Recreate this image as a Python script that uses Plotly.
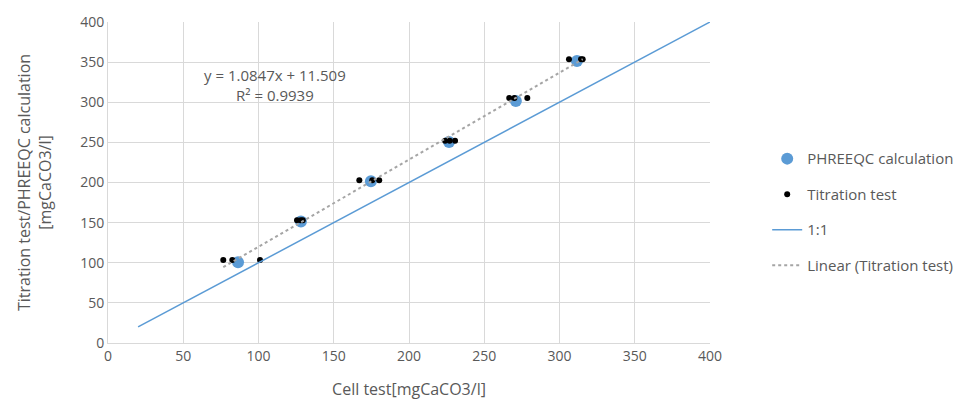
import plotly.graph_objects as go

# PHREEQC calculated alkalinity vs. cell test
phreeqc_x = [86.4, 128.2, 174.7, 226.6, 271.0, 311.6]
phreeqc_y = [100.5, 151.5, 201.5, 250.5, 301.5, 351.5]

# Titration test results vs. cell test
titration_x = [76.6, 82.6, 101.0, 125.6, 128.0, 129.4, 167.0, 175.6, 180.2,
               224.0, 227.0, 230.6, 266.6, 270.0, 278.6, 306.3, 314.3, 315.4]
titration_y = [103.5, 103.5, 103.5, 153.0, 153.0, 153.0, 202.7, 202.7, 202.7,
               252.0, 252.0, 252.0, 305.4, 305.4, 305.4, 353.5, 353.5, 353.5]

# 1:1 reference line
one_to_one = [20, 400]

# Linear trendline of the titration test
slope = 1.0847
intercept = 11.509
r_squared = 0.9939

x_ticks = [0, 50, 100, 150, 200, 250, 300, 350, 400]
y_ticks = [0, 50, 100, 150, 200, 250, 300, 350, 400]

FONT = "Open Sans, Liberation Sans, sans-serif"
GRID = "#d9d9d9"
TXT = "#595959"

trend_x = [min(titration_x), max(titration_x)]
trend_y = [slope * v + intercept for v in trend_x]

fig = go.Figure()
fig.add_trace(go.Scatter(
    x=phreeqc_x, y=phreeqc_y, mode="markers", name="PHREEQC calculation",
    marker=dict(color="#5B9BD5", size=12), legendgroup="a"))
fig.add_trace(go.Scatter(
    x=titration_x, y=titration_y, mode="markers", name="Titration test",
    marker=dict(color="black", size=6), legendgroup="b"))
fig.add_trace(go.Scatter(
    x=one_to_one, y=one_to_one, mode="lines", name="1:1",
    line=dict(color="#5B9BD5", width=1.5), legendgroup="c"))
fig.add_trace(go.Scatter(
    x=trend_x, y=trend_y, mode="lines", name="Linear (Titration test)",
    line=dict(color="#A5A5A5", width=2, dash="dot"), legendgroup="d"))

fig.add_annotation(
    x=111, y=322, xref="x", yref="y", showarrow=False,
    text=f"y = {slope}x + {intercept}<br>R² = {r_squared}",
    font=dict(family=FONT, size=15, color=TXT), align="center")

fig.update_layout(
    width=973, height=410,
    margin=dict(l=108, r=263, t=16, b=67),
    paper_bgcolor="white", plot_bgcolor="white",
    font=dict(family=FONT, size=14, color=TXT),
    showlegend=True,
    legend=dict(x=1.095, y=0.625, xanchor="left", yanchor="top",
                traceorder="grouped", tracegroupgap=13,
                font=dict(family=FONT, size=15, color=TXT),
                bgcolor="rgba(0,0,0,0)"),
    xaxis=dict(range=[0, 400], tickvals=x_ticks, showgrid=True, gridcolor=GRID,
               gridwidth=1, zeroline=False, showline=True, linecolor=GRID,
               ticks="", tickfont=dict(size=14, color=TXT),
               title=dict(text="Cell test[mgCaCO3/l]",
                          font=dict(size=16, color=TXT), standoff=20)),
    yaxis=dict(range=[0, 400], tickvals=y_ticks, showgrid=True, gridcolor=GRID,
               gridwidth=1, zeroline=False, showline=True, linecolor=GRID,
               ticks="", tickfont=dict(size=14, color=TXT),
               title=dict(text="Titration test/PHREEQC calculation<br>[mgCaCO3/l]",
                          font=dict(size=16, color=TXT), standoff=24)),
)

fig.write_html("out.html")
